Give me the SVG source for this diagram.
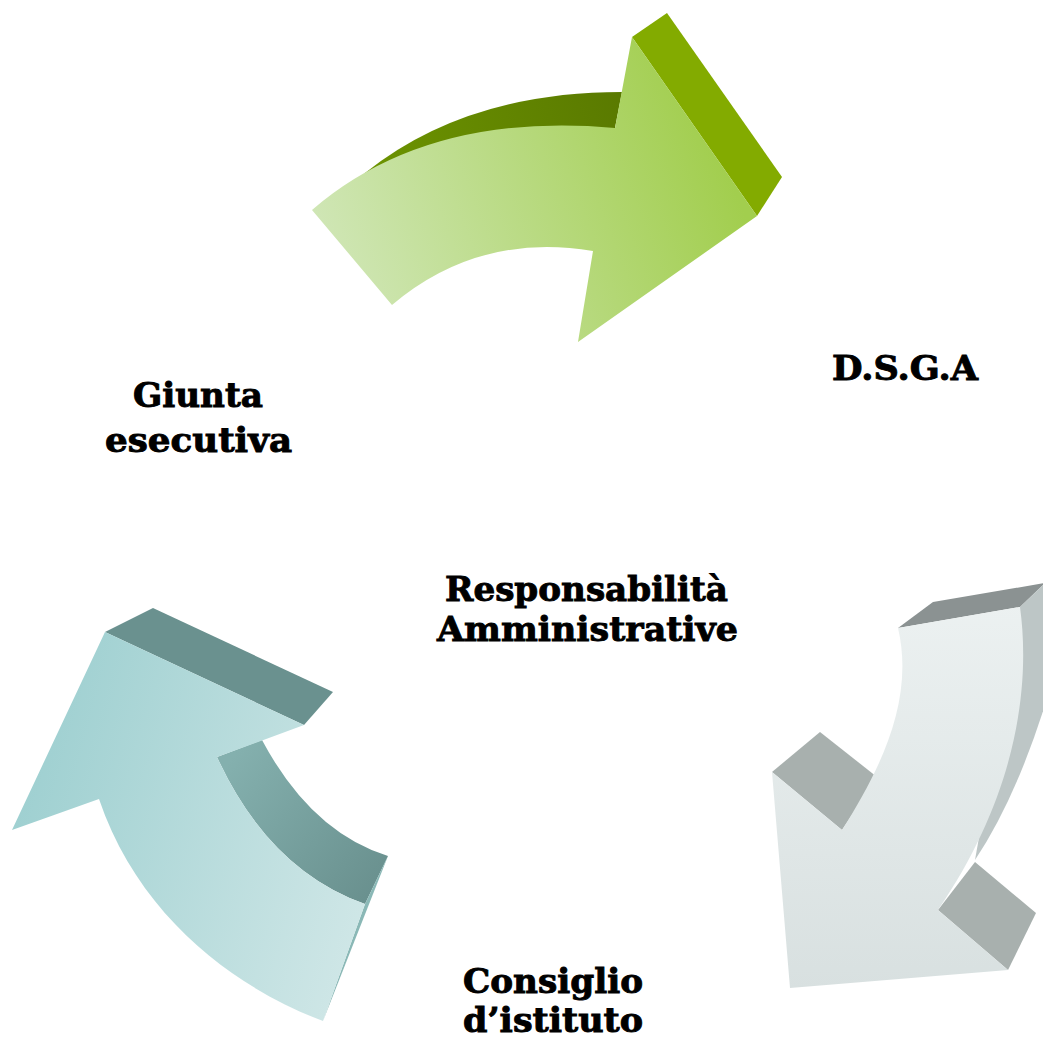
<svg xmlns="http://www.w3.org/2000/svg" width="1043" height="1041" viewBox="0 0 1043 1041">
<defs>
<style>
.lbl{font-family:"DejaVu Serif","Liberation Serif",serif;font-weight:bold;font-size:33px;fill:#000;stroke:#000;stroke-width:0.9px;text-anchor:middle}
</style>
<linearGradient id="gFront" gradientUnits="userSpaceOnUse" x1="330" y1="300" x2="720" y2="150">
<stop offset="0" stop-color="#D1E7B9"/><stop offset="1" stop-color="#A2CE4E"/>
</linearGradient>
<linearGradient id="gTop" gradientUnits="userSpaceOnUse" x1="370" y1="170" x2="620" y2="100">
<stop offset="0" stop-color="#6C9300"/><stop offset="1" stop-color="#5A7A00"/>
</linearGradient>
<linearGradient id="sFront" gradientUnits="userSpaceOnUse" x1="0" y1="600" x2="0" y2="990">
<stop offset="0" stop-color="#ECF1F1"/><stop offset="1" stop-color="#D8E0E0"/>
</linearGradient>
<linearGradient id="tFront" gradientUnits="userSpaceOnUse" x1="20" y1="800" x2="380" y2="900">
<stop offset="0" stop-color="#9FD0D1"/><stop offset="1" stop-color="#D0E7E7"/>
</linearGradient>
<linearGradient id="tInner" gradientUnits="userSpaceOnUse" x1="230" y1="760" x2="380" y2="880">
<stop offset="0" stop-color="#84B0AE"/><stop offset="1" stop-color="#6A918F"/>
</linearGradient>
</defs>
<rect width="1043" height="1041" fill="#FFFFFF"/>
<g id="connectors">
<g id="arrow-green">
<path d="M365,173 Q466,92 622,92 L615,128 L600,170 L365,185 Z" fill="url(#gTop)"/>
<polygon points="632,37 667,13 782,177 757,216" fill="#83AB00"/>
<path d="M312,210 Q427,111 615,128 L632,37 L757,216 L578,342 L593,251 Q478,232 392,305 Z" fill="url(#gFront)"/>
</g>
<g id="arrow-gray">
<polygon points="898,628 933,602 1045,583 1020,607" fill="#8B9292"/>
<path d="M1020,607 L1045,583 L1045,705 Q1015,800 975,860 Z" fill="#BDC6C6"/>
<polygon points="772,772 820,732 877,777 842,830" fill="#A8B0AE"/>
<polygon points="938,910 975,862 1036,913 1008,970" fill="#A8B0AE"/>
<path d="M898,628 L1020,607 C1030,680 1020,790 938,910 L1008,970 L790,988 L772,772 L842,830 C880,770 915,700 898,628 Z" fill="url(#sFront)"/>
</g>
<g id="arrow-teal">
<polygon points="105,632 153,608 333,692 304,725" fill="#6A918F"/>
<path d="M217,757 L262,740 Q311,832 388,856 L365,904 Q269,870 217,757 Z" fill="url(#tInner)"/>
<polygon points="365,904 388,856 323,1021" fill="#8AB8B6"/>
<path d="M105,632 L304,725 L217,757 Q269,870 365,904 L323,1021 C240,990 140,920 99,799 L12,830 Z" fill="url(#tFront)"/>
</g>
</g>
<g id="node-giunta">
<text class="lbl" x="198" y="407" textLength="130" lengthAdjust="spacingAndGlyphs">Giunta</text>
<text class="lbl" x="198.5" y="452" textLength="187" lengthAdjust="spacingAndGlyphs">esecutiva</text>
</g>
<g id="node-dsga">
<text class="lbl" x="905" y="380" textLength="146" lengthAdjust="spacingAndGlyphs">D.S.G.A</text>
</g>
<g id="node-center">
<text class="lbl" x="586.5" y="601" textLength="283" lengthAdjust="spacingAndGlyphs">Responsabilità</text>
<text class="lbl" x="587.5" y="641" textLength="301" lengthAdjust="spacingAndGlyphs">Amministrative</text>
</g>
<g id="node-consiglio">
<text class="lbl" x="553" y="993" textLength="180" lengthAdjust="spacingAndGlyphs">Consiglio</text>
<text class="lbl" x="553" y="1032" textLength="180" lengthAdjust="spacingAndGlyphs">d’istituto</text>
</g>
</svg>
